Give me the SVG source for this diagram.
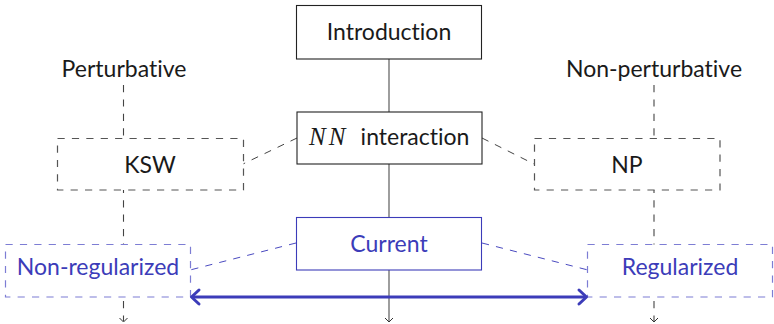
<svg xmlns="http://www.w3.org/2000/svg" width="774" height="324" viewBox="0 0 774 324">
  <style>
    text { font-family: Lato, "Open Sans", "DejaVu Sans", sans-serif; font-size: 23px; text-anchor: middle; font-variant-ligatures: none; font-feature-settings: "liga" 0, "dlig" 0; }
    .blk { fill: #1a1a1a; }
    .blu { fill: #3c3cb9; }
    .box { fill: #ffffff; stroke: #222222; stroke-width: 1.1; }
    .dbox { fill: #ffffff; stroke: #555555; stroke-width: 1.2; stroke-dasharray: 7.2 7.2; }
    .bbox { fill: #ffffff; stroke: #7d7dd4; stroke-width: 1.2; stroke-dasharray: 7.2 7.2; }
    .bsolid { fill: #ffffff; stroke: #3c3cb9; stroke-width: 1.1; }
    .trunk { stroke: #4d4d4d; stroke-width: 1.1; fill: none; }
    .branch { stroke: #444444; stroke-width: 1.1; fill: none; stroke-dasharray: 7.2 7.2; }
    .gdash { stroke: #444444; stroke-width: 1; fill: none; stroke-dasharray: 7.2 7.2; }
    .bdash { stroke: #4a4ac0; stroke-width: 1; fill: none; stroke-dasharray: 7.2 7.2; }
    .link { stroke: #3c3cb9; stroke-width: 3; fill: none; }
    .tip { stroke: #333333; stroke-width: 1; fill: none; }
    .btip { stroke: #3c3cb9; stroke-width: 3; fill: none; stroke-linecap: round; stroke-linejoin: round; }
    .math { font-family: "Liberation Serif", "DejaVu Serif", serif; font-style: italic; font-size: 25px; letter-spacing: 3px; text-anchor: start; }
  </style>

  <g id="connectors">
    <!-- main trunk -->
    <line class="trunk" x1="389" y1="59" x2="389" y2="321"/>
    <path class="tip" d="M385 318 L389 322 L393 318"/>
    <!-- left branch -->
    <line class="branch" x1="123.5" y1="85" x2="123.5" y2="321"/>
    <path class="tip" d="M119.5 318 L123.5 322 L127.5 318"/>
    <!-- right branch -->
    <line class="branch" x1="654" y1="85" x2="654" y2="321"/>
    <path class="tip" d="M650 318 L654 322 L658 318"/>
    <!-- side links -->
    <line class="gdash" x1="297" y1="138" x2="243" y2="164"/>
    <line class="gdash" x1="482" y1="138" x2="534" y2="164"/>
    <line class="bdash" x1="296" y1="243" x2="190" y2="270"/>
    <line class="bdash" x1="482" y1="243" x2="588" y2="270"/>
  </g>

  <g id="intro">
    <rect class="box" x="296.5" y="5.5" width="185" height="53.5"/>
    <text class="blk" x="389" y="40">Introduction</text>
  </g>
  <g id="nn">
    <rect class="box" x="297" y="112" width="185" height="52"/>
    <text class="blk math" x="309" y="145">NN</text>
    <text class="blk" x="415" y="145">interaction</text>
  </g>
  <g id="current">
    <rect class="bsolid" x="296.5" y="217.5" width="185" height="52.5"/>
    <text class="blu" x="389" y="252">Current</text>
  </g>

  <g id="pert">
    <text class="blk" x="124" y="77">Perturbative</text>
  </g>
  <g id="ksw">
    <rect class="dbox" x="57.5" y="138.5" width="186" height="51.5"/>
    <text class="blk" x="150" y="173">KSW</text>
  </g>
  <g id="nonreg">
    <rect class="bbox" x="5.5" y="244.5" width="185" height="52.5"/>
    <text class="blu" x="98" y="275">Non-regularized</text>
  </g>

  <g id="nonpert">
    <text class="blk" x="654" y="77">Non-perturbative</text>
  </g>
  <g id="np">
    <rect class="dbox" x="534.5" y="138.5" width="185.5" height="51.5"/>
    <text class="blk" x="627" y="173">NP</text>
  </g>
  <g id="reg">
    <rect class="bbox" x="587.5" y="244.5" width="185" height="52.5"/>
    <text class="blu" x="680" y="275">Regularized</text>
  </g>

  <g id="comparison">
    <line class="link" x1="192" y1="297" x2="586" y2="297"/>
    <path class="btip" d="M199 290 L191.5 297 L199 304"/>
    <path class="btip" d="M579 290 L586.5 297 L579 304"/>
  </g>
</svg>
